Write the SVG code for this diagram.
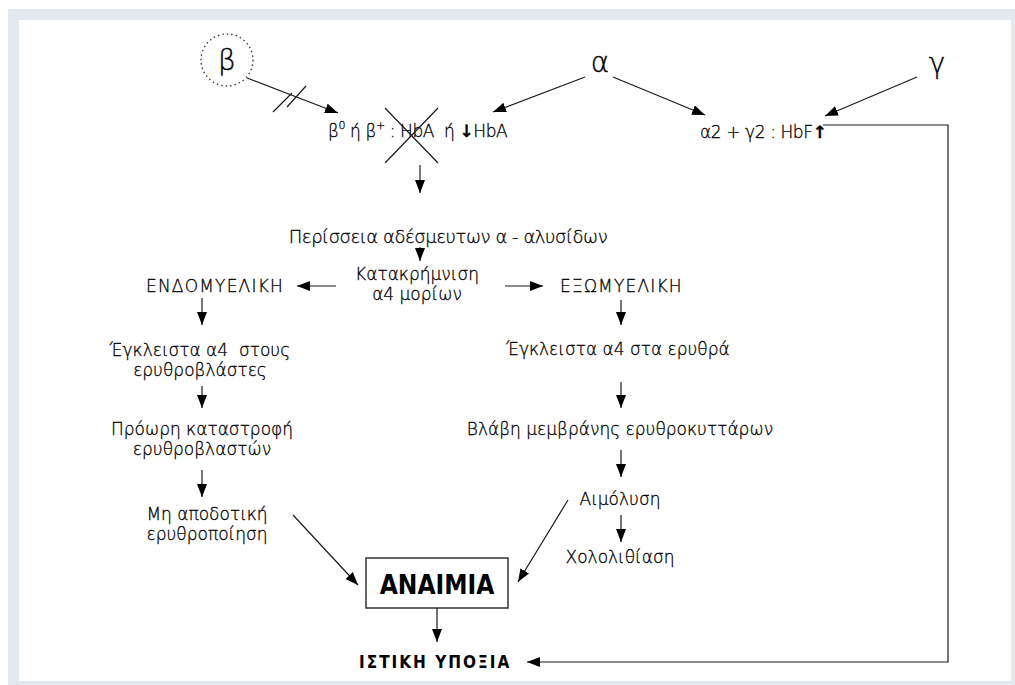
<svg xmlns="http://www.w3.org/2000/svg" width="1015" height="685" viewBox="0 0 1015 685">
<style>
.t{font-family:"DejaVu Sans","Liberation Sans",sans-serif;font-weight:300;font-size:17px;fill:#000;stroke:#000;stroke-width:0.3}
.big{font-size:28px;stroke-width:0.4}
.p{font-size:18px;letter-spacing:-0.45px}
.caps{letter-spacing:1.2px}
.tight{letter-spacing:-0.4px}
.b{font-family:"DejaVu Sans Condensed","DejaVu Sans","Liberation Sans",sans-serif;font-weight:bold;fill:#000}
.c{stroke:#1a1a1a;stroke-width:1.2;fill:none}
.m{text-anchor:middle}
</style>
<defs>
<marker id="ah" markerUnits="userSpaceOnUse" markerWidth="14" markerHeight="11" refX="13" refY="5" orient="auto">
<path d="M0,0 L13,5 L0,10 z" fill="#000"/>
</marker>
</defs>
<rect x="8" y="9" width="1007" height="676" fill="#e3e9ee"/>
<rect x="19" y="20" width="992" height="661" fill="#fff"/>

<g id="beta">
<circle cx="227" cy="60" r="26" fill="none" stroke="#333" stroke-width="1.3" stroke-dasharray="1.5,3"/>
<text class="t big m" x="227" y="70">β</text>
</g>
<g id="alpha"><text class="t big m" x="600" y="72">α</text></g>
<g id="gamma"><text class="t big m" x="937" y="73">γ</text></g>

<g id="hba">
<text class="t tight" x="328" y="137" xml:space="preserve">β<tspan font-size="11" dy="-8">0</tspan><tspan dy="8"> ή β</tspan><tspan font-size="11" dy="-8">+</tspan><tspan dy="8"> : HbA  ή </tspan><tspan font-weight="bold">↓</tspan>HbA</text>
<path class="c" d="M385,108 L438,163 M438,108 L385,163"/>
</g>
<g id="hbf"><text class="t tight" x="700" y="138">α2 + γ2 : HbF<tspan font-weight="bold">↑</tspan></text></g>

<g id="excess"><text class="t p m" x="448" y="243">Περίσσεια αδέσμευτων α - αλυσίδων</text></g>
<g id="precip">
<text class="t m" x="417" y="280">Κατακρήμνιση</text>
<text class="t m" x="417" y="300">α4 μορίων</text>
</g>
<g id="endo"><text class="t caps" x="284" y="292" text-anchor="end">ΕΝΔΟΜΥΕΛΙΚΗ</text></g>
<g id="exo"><text class="t caps" x="560" y="292">ΕΞΩΜΥΕΛΙΚΗ</text></g>

<g id="inc1">
<text class="t m" x="200" y="356" xml:space="preserve">Έγκλειστα α4  στους</text>
<text class="t m" x="200" y="376">ερυθροβλάστες</text>
</g>
<g id="destr">
<text class="t m" x="202" y="435">Πρόωρη καταστροφή</text>
<text class="t m" x="202" y="455">ερυθροβλαστών</text>
</g>
<g id="ineff">
<text class="t m" x="207" y="520">Μη αποδοτική</text>
<text class="t m" x="207" y="540">ερυθροποίηση</text>
</g>

<g id="inc2"><text class="t m" x="618" y="355">Έγκλειστα α4 στα ερυθρά</text></g>
<g id="membr"><text class="t m" x="620" y="435">Βλάβη μεμβράνης ερυθροκυττάρων</text></g>
<g id="hemol"><text class="t m" x="620" y="505">Αιμόλυση</text></g>
<g id="chol"><text class="t m" x="620" y="563">Χολολιθίαση</text></g>

<g id="anemia">
<rect x="366" y="558" width="142" height="50" fill="#fff" stroke="#333" stroke-width="1.5"/>
<text class="b m" x="437" y="594" font-size="26">ΑΝΑΙΜΙΑ</text>
</g>
<g id="hypoxia"><text class="b" x="359" y="668" font-size="17" letter-spacing="2">ΙΣΤΙΚΗ ΥΠΟΞΙΑ</text></g>

<g id="connectors" class="c" marker-end="url(#ah)">
<path d="M247,78 L338,113"/>
<path d="M585,77 L493,112"/>
<path d="M613,77 L705,115"/>
<path d="M917,77 L825,116"/>
<path d="M823,125 L948,125 L948,662 L527,662"/>
<path d="M420,165 L420,193"/>
<path d="M420,247 L420,261"/>
<path d="M336,286 L297,286"/>
<path d="M505,286 L543,286"/>
<path d="M202,298 L202,325"/>
<path d="M202,386 L202,408"/>
<path d="M202,470 L202,497"/>
<path d="M621,300 L621,325"/>
<path d="M621,382 L621,408"/>
<path d="M621,450 L621,477"/>
<path d="M621,515 L621,542"/>
<path d="M293,515 L358,585"/>
<path d="M568,500 L518,582"/>
<path d="M437,608 L437,642"/>
</g>
<g id="hash" class="c">
<path d="M273,112 L292,93 M287,107 L306,86"/>
</g>
</svg>
